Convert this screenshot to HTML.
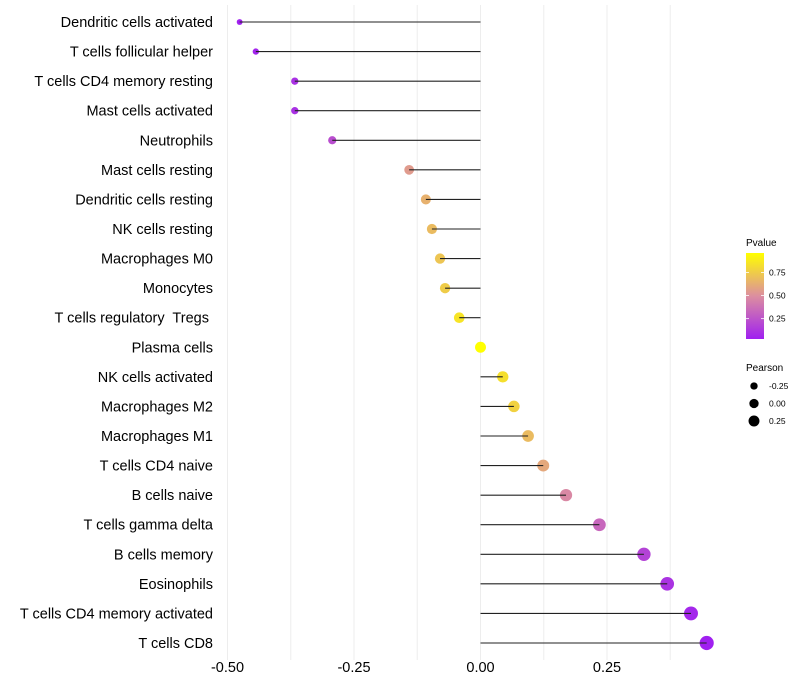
<!DOCTYPE html>
<html><head><meta charset="utf-8"><style>
html,body{margin:0;padding:0;background:#fff;}
svg{display:block;font-family:"Liberation Sans",sans-serif;}
</style></head><body>
<svg id="chart" width="800" height="700" viewBox="0 0 800 700" xmlns="http://www.w3.org/2000/svg">
<defs>
<linearGradient id="pgrad" x1="0" y1="1" x2="0" y2="0">
<stop offset="0" stop-color="#a020f0"/>
<stop offset="0.5" stop-color="#dc8ea0"/>
<stop offset="1" stop-color="#ffff00"/>
</linearGradient>
</defs>
<g id="grid"></g>
<g id="marks"></g>
<g id="ylabels"></g>
<g id="xlabels"></g>
<g>
<text x="746" y="246" font-size="10" fill="#000">Pvalue</text>
<rect x="746" y="253" width="18" height="86" fill="url(#pgrad)"/>
<g id="cbticks"></g>
</g>
<g>
<text x="746" y="371" font-size="10" fill="#000">Pearson</text>
<g id="sizelegend"></g>
</g>
</svg>
<script>
const categories = ["Dendritic cells activated","T cells follicular helper","T cells CD4 memory resting","Mast cells activated","Neutrophils","Mast cells resting","Dendritic cells resting","NK cells resting","Macrophages M0","Monocytes","T cells regulatory  Tregs ","Plasma cells","NK cells activated","Macrophages M2","Macrophages M1","T cells CD4 naive","B cells naive","T cells gamma delta","B cells memory","Eosinophils","T cells CD4 memory activated","T cells CD8"];
const pearson = [-0.476,-0.444,-0.367,-0.367,-0.293,-0.141,-0.108,-0.096,-0.080,-0.070,-0.042,0.000,0.044,0.066,0.094,0.124,0.169,0.235,0.323,0.369,0.416,0.447];
const pvalue = [0.03,0.05,0.10,0.10,0.22,0.55,0.64,0.68,0.72,0.75,0.85,0.96,0.83,0.77,0.68,0.60,0.47,0.33,0.18,0.11,0.06,0.03];
const xTicks = [-0.5,-0.25,0,0.25];
const xTickLabels = ["-0.50","-0.25","0.00","0.25"];
const xMinor = [-0.375,-0.125,0.125,0.375];
const cbTicks = [0.25,0.5,0.75];
const cbTickLabels = ["0.25","0.50","0.75"];
const sizeLegendVals = [-0.25,0,0.25];
const sizeLegendLabels = ["-0.25","0.00","0.25"];

const NS="http://www.w3.org/2000/svg";
const x = v => 480.5 + v*506;
const y = i => 22 + i*(643-22)/21;
const r = p => Math.sqrt(Math.max(5, 30 + 45*p));
const cbY = v => 339 - (v-0.03)/(0.96-0.03)*86;
function hex(h){return [parseInt(h.substr(1,2),16),parseInt(h.substr(3,2),16),parseInt(h.substr(5,2),16)];}
const stops=[hex("#a020f0"),hex("#dc8ea0"),hex("#ffff00")];
function col(p){let t=Math.min(1,Math.max(0,(p-0.03)/(0.96-0.03)));let a,b,u;if(t<0.5){a=stops[0];b=stops[1];u=t/0.5;}else{a=stops[1];b=stops[2];u=(t-0.5)/0.5;}
return "rgb("+a.map((c,k)=>Math.round(c+(b[k]-c)*u)).join(",")+")";}
function mk(tag,attrs,parent){const e=document.createElementNS(NS,tag);for(const k in attrs)e.setAttribute(k,attrs[k]);parent.appendChild(e);return e;}

const grid=document.getElementById('grid');
xTicks.concat(xMinor).forEach(v=>{
  const l=mk('line',{x1:x(v),x2:x(v),y1:5,y2:660,stroke:'#ededed','stroke-width':1},grid);
  
  
});
const marks=document.getElementById('marks');
const yl=document.getElementById('ylabels');
categories.forEach((c,i)=>{
  const g=mk('g',{},marks);
  
  
  const pt=mk('circle',{cx:x(pearson[i]),cy:y(i),r:r(pearson[i]),fill:col(pvalue[i])},g);
  
  
  const s=mk('line',{x1:x(0),x2:x(pearson[i]),y1:y(i),y2:y(i),stroke:'#222','stroke-width':1.1},g);
  
  
  const t=mk('text',{x:213,y:y(i)+5,'text-anchor':'end','font-size':14.5,fill:'#000',style:'white-space:pre'},yl);
  t.textContent=c;
  
  
});
const xl=document.getElementById('xlabels');
xTicks.forEach((v,i)=>{
  const t=mk('text',{x:x(v),y:672,'text-anchor':'middle','font-size':14.5,fill:'#000'},xl);
  t.textContent=xTickLabels[i];
  
  
});
const cb=document.getElementById('cbticks');
cbTicks.forEach((v,i)=>{
  const l=mk('line',{x1:746,x2:749,y1:cbY(v),y2:cbY(v),stroke:'#fff','stroke-width':0.8},cb);
  
  
  const l2=mk('line',{x1:761,x2:764,y1:cbY(v),y2:cbY(v),stroke:'#fff','stroke-width':0.8},cb);
  
  
  const t=mk('text',{x:769,y:cbY(v)+3,'font-size':8.5,fill:'#000'},cb);
  t.textContent=cbTickLabels[i];
  
  
});
const sl=document.getElementById('sizelegend');
sizeLegendVals.forEach((v,i)=>{
  const yy=386+i*17.5;
  const c=mk('circle',{cx:754,cy:yy,r:r(v)*0.85,fill:'#000'},sl);
  
  
  const t=mk('text',{x:769,y:yy+3,'font-size':8.5,fill:'#000'},sl);
  t.textContent=sizeLegendLabels[i];
  
  
});
</script>
</body></html>
